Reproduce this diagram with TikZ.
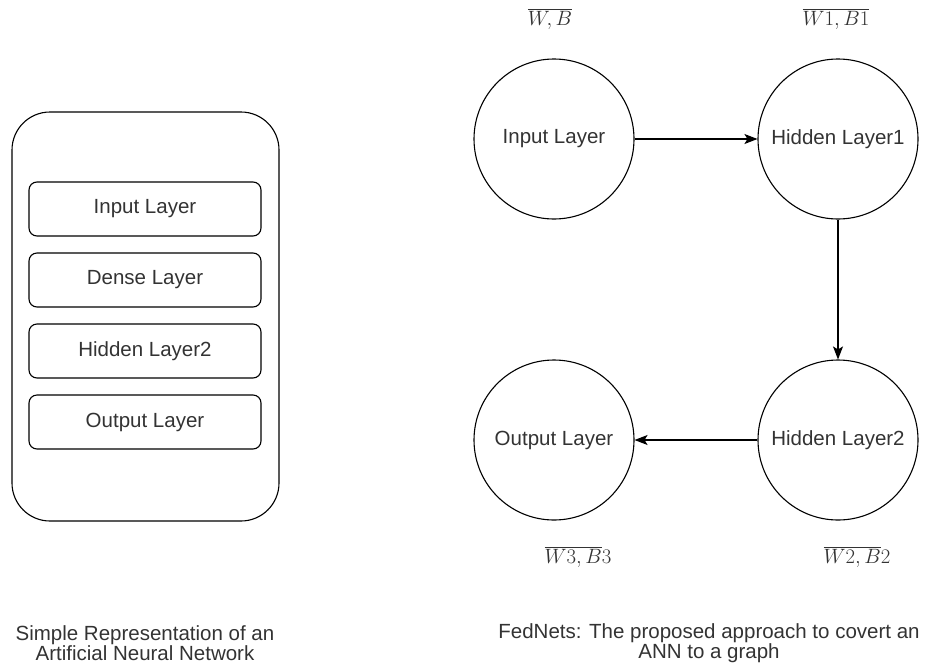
\documentclass[tikz,border=0pt]{standalone}
\usepackage[no-math]{fontspec}
\setmainfont{Liberation Sans}
\usetikzlibrary{arrows.meta}
\definecolor{txt}{HTML}{333333}
\tikzset{
  outline/.style={draw=black, line width=1.1pt},
  layerbox/.style={outline, rounded corners=8pt, minimum width=232pt, minimum height=54pt,
    inner sep=0pt, text=txt, font=\fontsize{20.5}{20}\selectfont},
  graphnode/.style={outline, circle, minimum size=160pt, inner sep=0pt, text=txt,
    font=\fontsize{20.5}{20}\selectfont},
  weight/.style={inner sep=0pt, text=txt, font=\fontsize{20}{20}\selectfont},
  caption/.style={align=center, inner sep=0pt, text=txt, font=\fontsize{20.5}{20}\selectfont},
  flow/.style={line width=1.1pt, -{Stealth[length=13pt,width=10pt,inset=3pt]}}
}
\begin{document}
\begin{tikzpicture}[x=1pt,y=-1pt]
\useasboundingbox (0,0) rectangle (934,670);

% left: stacked representation of the network
\draw[outline, rounded corners=38pt] (12,112) rectangle (279,521);
\node[layerbox] (li) at (145,209) {Input Layer};
\node[layerbox] (ld) at (145,280) {Dense Layer};
\node[layerbox] (lh) at (145,351) {Hidden Layer2};
\node[layerbox] (lo) at (145,422) {Output Layer};
\node[caption] (capl) at (145,643) {Simple Representation of an\\Artificial Neural Network};

% right: the network as a graph
\node[graphnode] (gin) at (554,139) {Input Layer};
\node[graphnode] (gh1) at (838,139) {Hidden Layer1};
\node[graphnode] (gh2) at (838,440) {Hidden Layer2};
\node[graphnode] (gout) at (554,440) {Output Layer};

\draw[flow] (gin) -- (gh1);
\draw[flow] (gh1) -- (gh2);
\draw[flow] (gh2) -- (gout);

% weights and biases carried by each node
\node[weight] (w0) at (550,19) {$\overline{W,B}$};
\node[weight] (w1) at (836,19) {$\overline{W1,B1}$};
\node[weight] (w3) at (578,557) {$\overline{W3,B}3$};
\node[weight] (w2) at (857,557) {$\overline{W2,B}2$};

\node[caption] (capr) at (709,643) {FedNets: The proposed approach to covert an\\ANN to a graph};
\end{tikzpicture}
\end{document}
